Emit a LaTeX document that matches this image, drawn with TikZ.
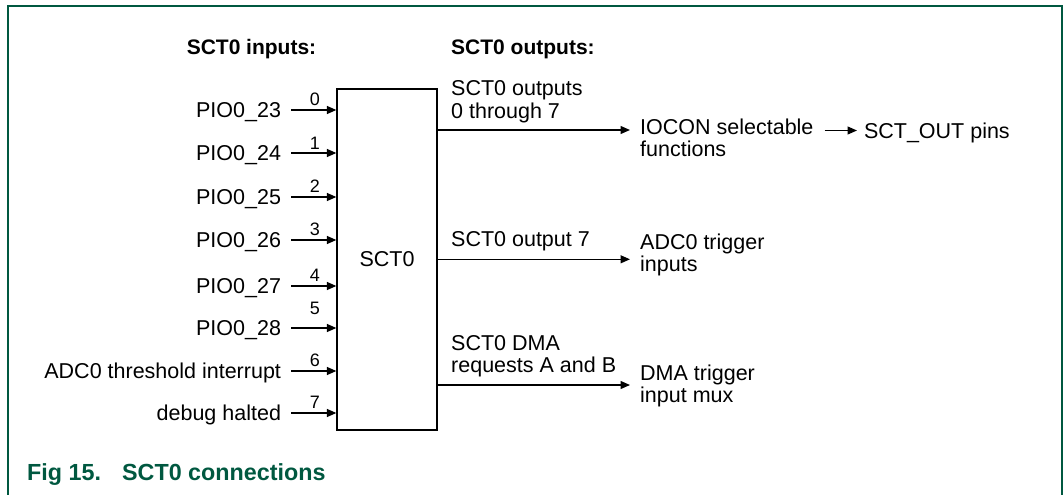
\documentclass[tikz,border=0pt]{standalone}
\usepackage{fontspec}
\setmainfont{Liberation Sans}
\usetikzlibrary{arrows.meta}
\definecolor{nxpgreen}{RGB}{0,88,64}
\begin{document}
\begin{tikzpicture}[x=1pt,y=-1pt,
  txt/.style={font=\fontsize{21.5}{23}\selectfont, inner sep=0pt},
  hd/.style={font=\fontsize{21}{23}\selectfont\bfseries, inner sep=0pt},
  inlab/.style={txt, anchor=east, text height=15pt, text depth=0pt, outer xsep=10pt},
  num/.style={font=\fontsize{18}{20}\selectfont, inner sep=0pt, anchor=base},
  arr/.style={line width=1.3pt, -{Triangle[length=9.5pt,width=8pt]}},
  boxst/.style={draw, line width=1.3pt, minimum width=100pt, minimum height=341pt, inner sep=0pt, font=\fontsize{21.5}{23}\selectfont}
]
\useasboundingbox (0,0) rectangle (1063,495);
% frame
\draw[nxpgreen, line width=2pt] (8,495) -- (8,6) -- (1062,6) -- (1062,495);

% headings
\node[hd, anchor=base] (hin) at (251.5,55) {SCT0 inputs:};
\node[hd, anchor=base west] (hout) at (451,55) {SCT0 outputs:};

% SCT0 box
\node[boxst] (sct) at (387,259.5) {SCT0};

% inputs
\node[inlab] (i0) at (291,110) {PIO0\_23};
\node[inlab] (i1) at (291,153) {PIO0\_24};
\node[inlab] (i2) at (291,197) {PIO0\_25};
\node[inlab] (i3) at (291,240) {PIO0\_26};
\node[inlab] (i4) at (291,286) {PIO0\_27};
\node[inlab] (i5) at (291,328) {PIO0\_28};
\node[inlab] (i6) at (291,371) {ADC0 threshold interrupt};
\node[inlab] (i7) at (291,413) {debug halted};
\foreach \k in {0,...,7}{
  \draw[arr] (i\k.east) -- (i\k.east -| sct.west);
}
\node[num] (n0) at (315,105) {0};
\node[num] (n1) at (315,149) {1};
\node[num] (n2) at (315,192) {2};
\node[num] (n3) at (315,235) {3};
\node[num] (n4) at (315,281) {4};
\node[num] (n5) at (315,314) {5};
\node[num] (n6) at (315,366) {6};
\node[num] (n7) at (315,408) {7};

% outputs
\coordinate (e1) at (630,130);
\coordinate (e2) at (630,259.3);
\coordinate (e3) at (630,385);
\draw[arr] (sct.east |- e1) -- (e1);
\draw[arr] (sct.east |- e2) -- (e2);
\draw[arr] (sct.east |- e3) -- (e3);

\node[txt, anchor=base west] (o1a) at (451,95.7) {SCT0 outputs};
\node[txt, anchor=base west] (o1b) at (451,118.3) {0 through 7};
\node[txt, anchor=base west] (o2a) at (451,246) {SCT0 output 7};
\node[txt, anchor=base west] (o3a) at (451,350) {SCT0 DMA};
\node[txt, anchor=base west] (o3b) at (451,372.7) {requests A and B};

\node[txt, anchor=base west] (t1a) at (640,134.3) {IOCON selectable};
\node[txt, anchor=base west] (t1b) at (640,156.7) {functions};
\node[txt, anchor=base west] (t2a) at (640,249.3) {ADC0 trigger};
\node[txt, anchor=base west] (t2b) at (640,271.7) {inputs};
\node[txt, anchor=base west] (t3a) at (640,380.7) {DMA trigger};
\node[txt, anchor=base west] (t3b) at (640,402.7) {input mux};

\node[txt, anchor=west, text height=15pt, text depth=0pt, outer xsep=7pt] (so) at (857,130.5) {SCT\_OUT pins};
\draw[arr] ([xshift=11pt]t1a.east |- so.west) -- (so.west);

% caption
\node[font=\fontsize{23.3}{25}\selectfont\bfseries, inner sep=0pt, anchor=base west, text=nxpgreen] (cap) at (27,480) {\makebox[95pt][l]{Fig 15.}SCT0 connections};
\end{tikzpicture}
\end{document}
